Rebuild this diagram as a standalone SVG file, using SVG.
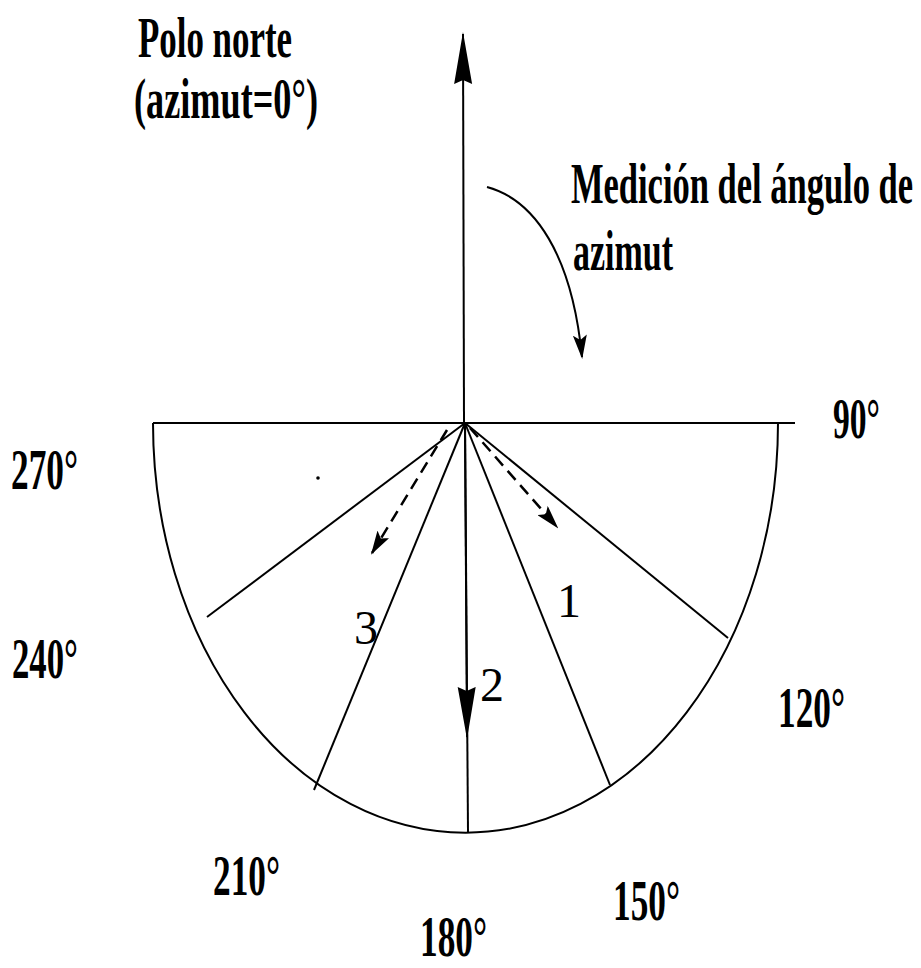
<svg xmlns="http://www.w3.org/2000/svg" width="921" height="968" viewBox="0 0 921 968">
<style>
.t{font-family:"Liberation Serif","Times New Roman",serif;font-weight:bold;font-size:56px;fill:#000}
.n{font-family:"Liberation Serif","Times New Roman",serif;font-size:48px;fill:#000}
.ln{stroke:#000;stroke-width:2;fill:none}
.dash{stroke:#000;stroke-width:2.5;fill:none;stroke-dasharray:12 7}
</style>
<defs>
<marker id="ah" markerWidth="24" markerHeight="14" refX="22" refY="7" orient="auto" markerUnits="userSpaceOnUse">
<path d="M0,0 L24,7 L0,14 L5,7 Z" fill="#000"/>
</marker>
<marker id="big" markerWidth="52" markerHeight="20" refX="50" refY="10" orient="auto" markerUnits="userSpaceOnUse">
<path d="M0,1 L52,10 L0,19 L4,10 Z" fill="#000"/>
</marker>
</defs>
<rect width="921" height="968" fill="#fff"/>
<g id="labels">
<text class="t" x="138" y="57" textLength="154" lengthAdjust="spacingAndGlyphs">Polo norte</text>
<text class="t" x="134" y="118" textLength="184" lengthAdjust="spacingAndGlyphs">(azimut=0°)</text>
<text class="t" x="571" y="203" textLength="342" lengthAdjust="spacingAndGlyphs">Medición del ángulo de</text>
<text class="t" x="573" y="270" textLength="100" lengthAdjust="spacingAndGlyphs">azimut</text>
<text class="t" x="833" y="438" textLength="47" lengthAdjust="spacingAndGlyphs">90°</text>
<text class="t" x="11" y="489" textLength="67" lengthAdjust="spacingAndGlyphs">270°</text>
<text class="t" x="12" y="678" textLength="66" lengthAdjust="spacingAndGlyphs">240°</text>
<text class="t" x="778" y="727" textLength="67" lengthAdjust="spacingAndGlyphs">120°</text>
<text class="t" x="213" y="895" textLength="67" lengthAdjust="spacingAndGlyphs">210°</text>
<text class="t" x="613" y="920" textLength="67" lengthAdjust="spacingAndGlyphs">150°</text>
<text class="t" x="420" y="956" textLength="67" lengthAdjust="spacingAndGlyphs">180°</text>
<text class="n" x="557" y="617">1</text>
<text class="n" x="480" y="701">2</text>
<text class="n" x="354" y="644">3</text>
</g>
<g id="semicircle">
<line class="ln" x1="153" y1="423" x2="795" y2="423" stroke-width="3"/>
<path class="ln" d="M153,423 A312,409 0 0 0 778,423" stroke-width="2.5"/>
</g>
<g id="connectors">
<line class="ln" x1="464" y1="423" x2="463" y2="34" marker-end="url(#big)"/>
<line class="ln" x1="465" y1="423" x2="468" y2="832"/>
<line class="ln" x1="465" y1="423" x2="467" y2="737" marker-end="url(#big)"/>
<line class="ln" x1="465" y1="423" x2="728" y2="638"/>
<line class="ln" x1="465" y1="423" x2="610" y2="785"/>
<line class="ln" x1="465" y1="423" x2="314" y2="790"/>
<line class="ln" x1="465" y1="423" x2="207" y2="617"/>
<line class="dash" x1="470" y1="428" x2="557" y2="527" marker-end="url(#ah)"/>
<line class="dash" x1="447" y1="430" x2="372" y2="553" marker-end="url(#ah)"/>
<path class="ln" d="M487,187 C535,200 572,255 582,357" stroke-width="2.5" marker-end="url(#ah)"/>
<circle cx="318" cy="478" r="1.8" fill="#000"/>
</g>
</svg>
